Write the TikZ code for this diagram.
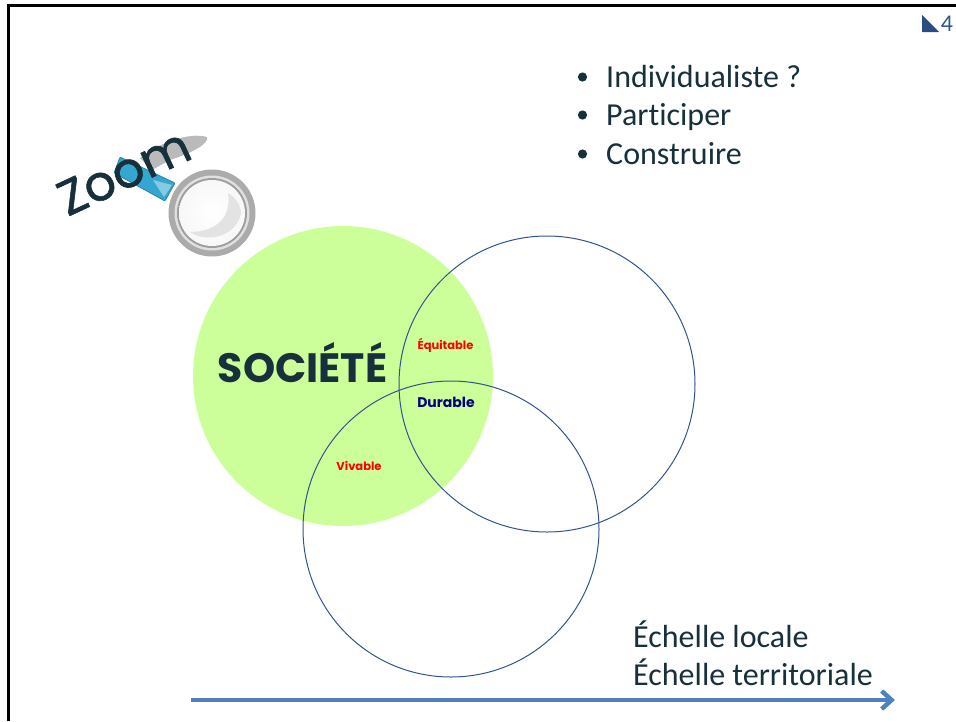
\documentclass[tikz,border=0pt]{standalone}
\usepackage{fontspec}
\setmainfont[Ligatures=NoCommon]{Carlito}
\newfontfamily\comicfont{Poppins}
\newfontfamily\zoomfont[FakeBold=1.2]{Poppins}
\usetikzlibrary{arrows.meta}
\definecolor{ink}{HTML}{17303B}
\definecolor{ring}{HTML}{2F5590}
\definecolor{lime}{HTML}{CCFF99}
\definecolor{arrowblue}{HTML}{4F81BD}
\definecolor{handle}{HTML}{35A6CF}
\tikzset{
  venn/.style={circle,draw=ring,line width=1pt,minimum size=296pt,inner sep=0pt,outer sep=0pt},
  body/.style={font=\fontsize{32}{36}\selectfont,text=ink,anchor=base west,inner sep=0pt},
  tag/.style={font=\comicfont\bfseries\fontsize{11.5}{13}\selectfont,inner sep=0pt},
}
\begin{document}
\begin{tikzpicture}[x=1pt,y=-1pt]
\useasboundingbox (0,0) rectangle (956,721);
% frame
\draw[line width=3pt] (8,721) -- (8,5) -- (956,5);
% page mark
\fill[ring!90!black] (922,15) -- (922,32) -- (939,32) -- cycle;
\node[font=\fontsize{24}{28}\selectfont,text=ring,inner sep=0pt] (pg) at (947,24) {4};
% bullets
\foreach \n/\y/\b/\t in {a/77/87/Individualiste ?,b/115/125/Participer,c/154/164/Construire}{
  \fill[ink] (582.5,\y) circle (4.6);
  \node[body] (\n) at (606,\b) {\t};
}
% magnifier
\fill[black!27] (140,158) .. controls (160,142) and (190,132) .. (207,137) .. controls (209,143) and (195,152) .. (170,160) -- (152,170) -- cycle;
\fill[handle,draw=handle!80!black,line width=.8pt,rounded corners=1pt] (120,157) -- (175,183) -- (165,201) -- (114,173) -- cycle;
\fill[handle!60!white] (153,180) -- (172,185) -- (164,197) -- cycle;
\fill[black!33] (212,213) circle (43.5);
\fill[black!12] (212,213) circle (37.5);
\fill[black!38] (212,213) circle (35);
\shade[inner color=white,outer color=black!3] (212,213) circle (33);
\fill[black!11] (228,193) .. controls (232,218) and (215,232) .. (190,232) .. controls (205,243) and (236,238) .. (241,213) .. controls (241,205) and (235,197) .. (228,193) -- cycle;
% venn
\node[circle,fill=lime,minimum size=300pt,inner sep=0pt,outer sep=0pt] (soc) at (343,376) {};
\node[venn] (right) at (547,384) {};
\node[venn] (low) at (451,529) {};
% labels
\node[font=\comicfont\bfseries\fontsize{41}{46}\selectfont,text=ink,inner sep=0pt] (societe) at (302.5,363) {SOCIÉTÉ};
\node[tag,text=red] (eq) at (445.5,345) {Équitable};
\node[tag,text=red] (vi) at (359,465.5) {Vivable};
\node[tag,text=blue!50!black,font=\comicfont\bfseries\fontsize{14}{16}\selectfont] (du) at (446,402.5) {Durable};
\node[font=\zoomfont\fontsize{49}{54}\selectfont,text=ink,rotate=25,inner sep=0pt] (zoom) at (124,172) {Zoom};
% scale
\node[body] (loc) at (633,647) {Échelle locale};
\node[body] (ter) at (633,685) {Échelle territoriale};
\coordinate (s) at (191,700);
\coordinate (e) at (895,700);
\draw[arrowblue,line width=3.5pt,-{Straight Barb[length=10pt,width=18pt,line width=4.5pt]}] (s) -- (e);
\end{tikzpicture}
\end{document}
